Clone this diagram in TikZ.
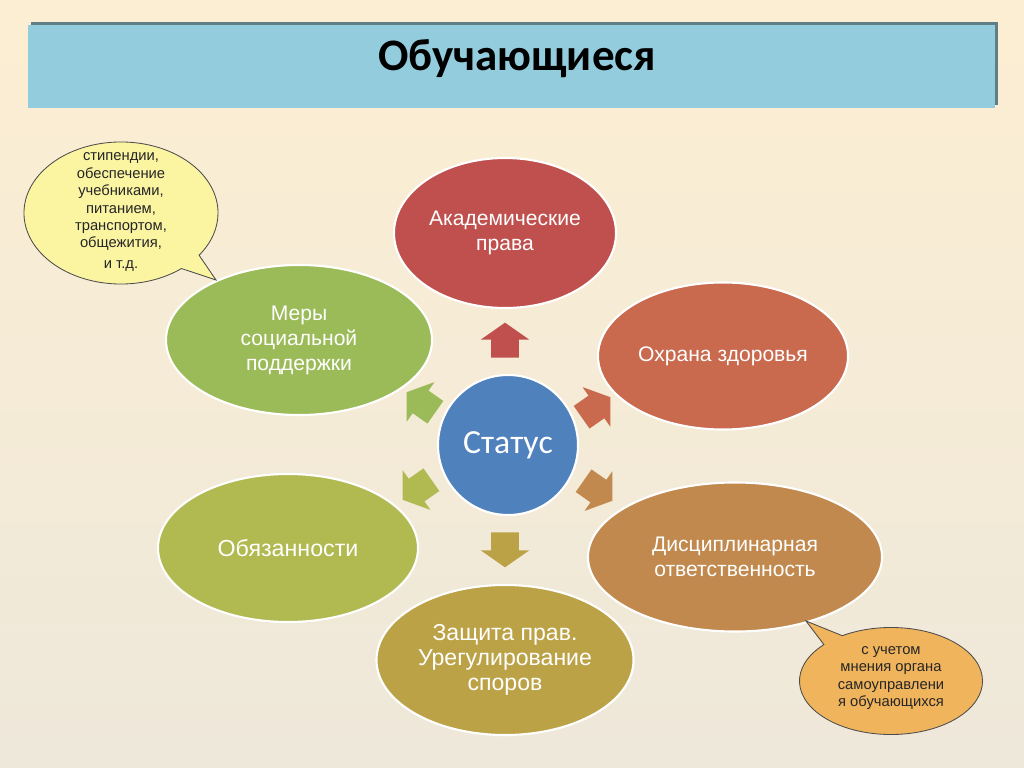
\documentclass[tikz,border=0pt]{standalone}
\usepackage{fontspec}
\setmainfont{Liberation Sans}
\newfontfamily\calibri{Carlito}
\usepackage{xcolor}
\usepackage{tikz}
\usetikzlibrary{shapes,positioning}

\definecolor{bgTop}{HTML}{FCEED2}
\definecolor{bgBottom}{HTML}{EEE8DA}
\definecolor{barBlue}{HTML}{93CDDD}
\definecolor{barShadow}{HTML}{5F7E86}
\definecolor{cAkad}{HTML}{C0504D}
\definecolor{cOhrana}{HTML}{C9694E}
\definecolor{cDisc}{HTML}{C1894E}
\definecolor{cZasch}{HTML}{BCA246}
\definecolor{cObyaz}{HTML}{B0BA51}
\definecolor{cMery}{HTML}{9BBB59}
\definecolor{cStatus}{HTML}{4F81BD}
\definecolor{cNoteA}{HTML}{FBF5A2}
\definecolor{cNoteB}{HTML}{F0B45C}

\begin{document}
\begin{tikzpicture}[
    x=0.025cm, y=-0.025cm,
    oval/.style={ellipse, draw=white, line width=1.5pt, inner sep=0pt, text=white, align=center, font=\fontsize{15}{17.8}\selectfont},
    bubble/.style={ellipse callout, draw=black!70, line width=0.6pt, inner sep=0pt},
    notetext/.style={align=center, inner sep=0pt, text=black!85, font=\fontsize{10.5}{12.4}\selectfont},
    blockarrow/.style={single arrow, draw=none, inner xsep=0pt, inner ysep=0.3375cm, minimum height=0.875cm, single arrow head extend=0.26cm, single arrow tip angle=110}
]
    \useasboundingbox (0,0) rectangle (1024,768);
    \fill[top color=bgTop, bottom color=bgBottom] (0,0) rectangle (1024,768);

    % title bar
    \fill[barShadow] (31,22) rectangle (998,105);
    \node[fill=barBlue, minimum width=24.175cm, minimum height=2.075cm, inner sep=0pt] (titleBar) at (511.5,66.5) {};
    \node[font=\calibri\bfseries\fontsize{32}{38}\selectfont] (title) at (517,59) {Обучающиеся};

    % ellipses
    \node[oval, fill=cStatus, circle, minimum size=3.5cm, font=\calibri\fontsize{24}{28}\selectfont] (status) at (508,445) {Статус};
    \node[oval, fill=cAkad, minimum width=5.55cm, minimum height=3.75cm] (akad) at (505,233) {Академические\\права};
    \node[oval, fill=cOhrana, minimum width=6.25cm, minimum height=3.675cm] (ohrana) at (723,356) {Охрана здоровья};
    \node[oval, fill=cDisc, minimum width=7.35cm, minimum height=3.725cm] (disc) at (735,557) {Дисциплинарная\\ответственность};
    \node[oval, fill=cZasch, minimum width=6.425cm, minimum height=3.75cm, font=\fontsize{16.4}{17.6}\selectfont] (zasch) at (505,660) {Защита прав.\\Урегулирование\\споров};
    \node[oval, fill=cObyaz, minimum width=6.5cm, minimum height=3.7cm, font=\fontsize{16.5}{19}\selectfont] (obyaz) at (288,548) {Обязанности};
    \node[oval, fill=cMery, minimum width=6.65cm, minimum height=3.75cm] (mery) at (299,340) {Меры\\социальной\\поддержки};

    % arrows round the status
    \node[blockarrow, fill=cAkad, rotate=90] (arrAkad) at (505,345) {};
    \node[blockarrow, fill=cOhrana, rotate=35] (arrOhrana) at (592,410) {};
    \node[blockarrow, fill=cDisc, rotate=-35] (arrDisc) at (594,488) {};
    \node[blockarrow, fill=cZasch, rotate=-90] (arrZasch) at (505,545) {};
    \node[blockarrow, fill=cObyaz, rotate=-145] (arrObyaz) at (421,487) {};
    \node[blockarrow, fill=cMery, rotate=145] (arrMery) at (425,405) {};

    % callouts
    \coordinate (tipMery) at (216,280);
    \coordinate (tipDisc) at (806,621);
    \node[bubble, fill=cNoteA, minimum width=4.85cm, minimum height=3.55cm, callout absolute pointer=(tipMery)] (noteMery) at (121,213) {};
    \node[notetext] (noteMeryText) at (121,212) {стипендии,\\обеспечение\\учебниками,\\питанием,\\транспортом,\\общежития,\\[2pt]и т.д.};
    \node[bubble, fill=cNoteB, minimum width=4.575cm, minimum height=2.675cm, callout absolute pointer=(tipDisc)] (noteDisc) at (891,681) {};
    \node[notetext] (noteDiscText) at (891,678) {с учетом\\мнения органа\\самоуправлени\\я обучающихся};
\end{tikzpicture}
\end{document}
